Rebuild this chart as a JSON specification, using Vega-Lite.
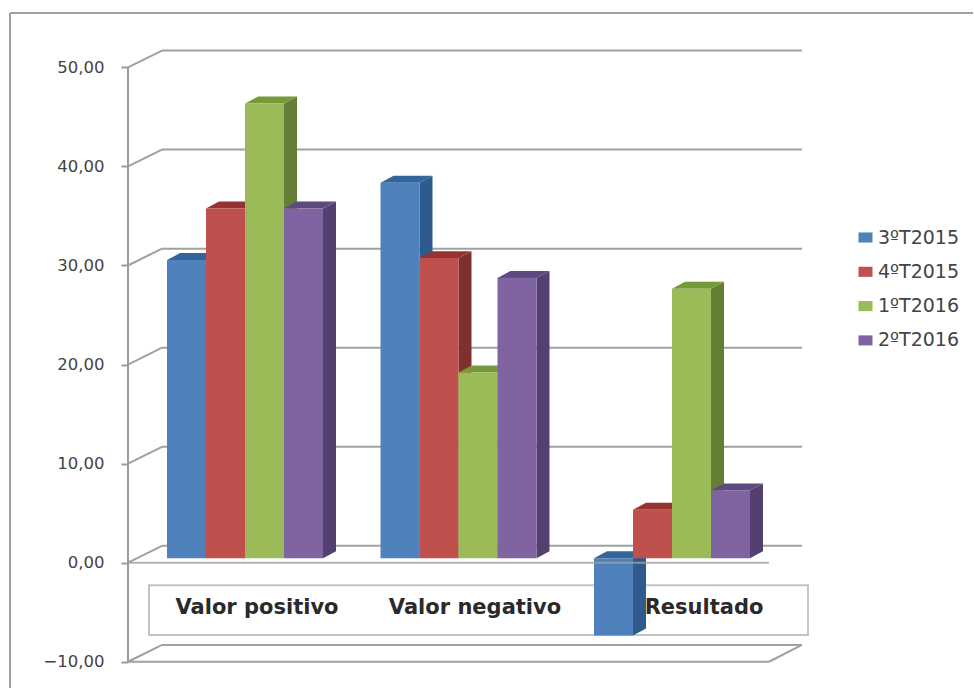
{
  "$schema": "https://vega.github.io/schema/vega-lite/v6.json",
  "width": 974,
  "height": 689,
  "padding": 0,
  "autosize": {"type": "fit", "contains": "padding"},
  "background": "#ffffff",
  "config": {"view": {"stroke": null}},
  "datasets": {
    "barras": [
      {"grupo": "Valor positivo", "serie": "3ºT2015", "valor": 30.1},
      {"grupo": "Valor positivo", "serie": "4ºT2015", "valor": 35.3},
      {"grupo": "Valor positivo", "serie": "1ºT2016", "valor": 45.9},
      {"grupo": "Valor positivo", "serie": "2ºT2016", "valor": 35.3},
      {"grupo": "Valor negativo", "serie": "3ºT2015", "valor": 37.9},
      {"grupo": "Valor negativo", "serie": "4ºT2015", "valor": 30.3},
      {"grupo": "Valor negativo", "serie": "1ºT2016", "valor": 18.75},
      {"grupo": "Valor negativo", "serie": "2ºT2016", "valor": 28.3},
      {"grupo": "Resultado", "serie": "3ºT2015", "valor": -7.8},
      {"grupo": "Resultado", "serie": "4ºT2015", "valor": 4.9},
      {"grupo": "Resultado", "serie": "1ºT2016", "valor": 27.2},
      {"grupo": "Resultado", "serie": "2ºT2016", "valor": 6.85}
    ],
    "niveles": [
      {"nivel": -10}, {"nivel": 0}, {"nivel": 10}, {"nivel": 20},
      {"nivel": 30}, {"nivel": 40}, {"nivel": 50}
    ],
    "grupos": [
      {"grupo": "Valor positivo"}, {"grupo": "Valor negativo"}, {"grupo": "Resultado"}
    ],
    "uno": [{"marco": 1}]
  },
  "resolve": {"scale": {"color": "independent"}, "axis": {"x": "independent", "y": "independent"}},
  "layer": [
    {
      "description": "Outer chart frame, top edge",
      "data": {"name": "uno"},
      "mark": {"type": "rule", "color": "#a0a0a0", "strokeWidth": 2},
      "encoding": {
        "x": {"datum": 10, "type": "quantitative", "scale": {"domain": [0, 973], "nice": false, "zero": false}, "axis": null},
        "x2": {"datum": 973},
        "y": {
          "datum": 55.5, "type": "quantitative",
          "scale": {"domain": [-12.65, 56.8], "nice": false, "zero": false},
          "axis": {
            "title": null, "orient": "left", "offset": -128, "grid": false, "domain": false,
            "values": [-10, 0, 10, 20, 30, 40, 50],
            "labelExpr": "replace(format(datum.value, '.2f'), '.', ',')",
            "tickColor": "#9a9a9a", "tickWidth": 2, "tickSize": 7,
            "labelFont": "DejaVu Sans", "labelFontSize": 16.5, "labelColor": "#444444", "labelPadding": 17
          }
        }
      }
    },
    {
      "description": "Outer chart frame, left edge",
      "data": {"name": "uno"},
      "mark": {"type": "rule", "color": "#a0a0a0", "strokeWidth": 2},
      "encoding": {
        "x": {"datum": 10, "type": "quantitative", "axis": null},
        "y": {"datum": 55.5, "type": "quantitative", "axis": null},
        "y2": {"datum": -12.65}
      }
    },
    {
      "description": "Vertical value axis line on the front plane",
      "data": {"name": "uno"},
      "mark": {"type": "rule", "color": "#9a9a9a", "strokeWidth": 2},
      "encoding": {
        "x": {"datum": 128, "type": "quantitative", "axis": null},
        "y": {"datum": 50, "type": "quantitative", "axis": null},
        "y2": {"datum": -10}
      }
    },
    {
      "description": "Gridlines on the back wall",
      "data": {"name": "niveles"},
      "transform": [{"calculate": "datum.nivel + 1.7", "as": "fondo"}],
      "mark": {"type": "rule", "color": "#a0a0a0", "strokeWidth": 2},
      "encoding": {
        "x": {"datum": 162, "type": "quantitative", "axis": null},
        "x2": {"datum": 802},
        "y": {"field": "fondo", "type": "quantitative", "axis": null}
      }
    },
    {
      "description": "Slanted gridline segments on the side wall",
      "data": {"name": "niveles"},
      "transform": [{"calculate": "datum.nivel + 1.7", "as": "fondo"}],
      "mark": {"type": "rule", "color": "#a0a0a0", "strokeWidth": 2},
      "encoding": {
        "x": {"datum": 128, "type": "quantitative", "axis": null},
        "x2": {"datum": 162},
        "y": {"field": "nivel", "type": "quantitative", "axis": null},
        "y2": {"field": "fondo"}
      }
    },
    {
      "description": "Front edge of the floor",
      "data": {"name": "uno"},
      "mark": {"type": "rule", "color": "#a0a0a0", "strokeWidth": 2},
      "encoding": {
        "x": {"datum": 128, "type": "quantitative", "axis": null},
        "x2": {"datum": 769},
        "y": {"datum": -10, "type": "quantitative", "axis": null}
      }
    },
    {
      "description": "Right edge of the floor",
      "data": {"name": "uno"},
      "mark": {"type": "rule", "color": "#a0a0a0", "strokeWidth": 2},
      "encoding": {
        "x": {"datum": 769, "type": "quantitative", "axis": null},
        "x2": {"datum": 802},
        "y": {"datum": -10, "type": "quantitative", "axis": null},
        "y2": {"datum": -8.3}
      }
    },
    {
      "description": "Box behind the category labels",
      "data": {"name": "uno"},
      "mark": {"type": "rect", "fill": "#ffffff", "stroke": "#c4c4c4", "strokeWidth": 2},
      "encoding": {
        "x": {"datum": 149, "type": "quantitative", "axis": null},
        "x2": {"datum": 808},
        "y": {"datum": -2.27, "type": "quantitative", "axis": null},
        "y2": {"datum": -7.31}
      }
    },
    {
      "description": "Right-hand face of every bar",
      "data": {"name": "barras"},
      "transform": [
        {"calculate": "indexof(['Valor positivo','Valor negativo','Resultado'], datum.grupo)", "as": "g"},
        {"calculate": "indexof(['3ºT2015','4ºT2015','1ºT2016','2ºT2016'], datum.serie)", "as": "s"},
        {"calculate": "167 + datum.g * 213.5 + (datum.s + 1) * 39", "as": "borde"},
        {"calculate": "0", "as": "cerca"},
        {"calculate": "1", "as": "lejos"},
        {"fold": ["cerca", "lejos"], "as": ["cara", "prof"]},
        {"calculate": "datum.borde + datum.prof * 13", "as": "px"},
        {"calculate": "datum.valor + 0.45 + datum.prof * 0.7", "as": "alto"},
        {"calculate": "0.45 + datum.prof * 0.7", "as": "bajo"}
      ],
      "mark": {"type": "area", "orient": "vertical"},
      "encoding": {
        "x": {"field": "px", "type": "quantitative", "axis": null},
        "y": {"field": "alto", "type": "quantitative", "axis": null, "stack": null},
        "y2": {"field": "bajo"},
        "detail": {"field": "grupo"},
        "color": {
          "field": "serie", "type": "nominal", "legend": null,
          "scale": {"domain": ["3ºT2015", "4ºT2015", "1ºT2016", "2ºT2016"], "range": ["#2f5b8c", "#7f302e", "#647f35", "#53406f"]}
        }
      }
    },
    {
      "description": "Top face of every bar",
      "data": {"name": "barras"},
      "transform": [
        {"calculate": "indexof(['Valor positivo','Valor negativo','Resultado'], datum.grupo)", "as": "g"},
        {"calculate": "indexof(['3ºT2015','4ºT2015','1ºT2016','2ºT2016'], datum.serie)", "as": "s"},
        {"calculate": "167 + datum.g * 213.5 + datum.s * 39", "as": "izq"},
        {"calculate": "0", "as": "cerca"},
        {"calculate": "1", "as": "lejos"},
        {"fold": ["cerca", "lejos"], "as": ["cara", "prof"]},
        {"calculate": "datum.izq + datum.prof * 13", "as": "p0"},
        {"calculate": "datum.izq + 39 + datum.prof * 13", "as": "p1"},
        {"calculate": "max(datum.valor, 0) + 0.45 + datum.prof * 0.7", "as": "alto"}
      ],
      "mark": {"type": "area", "orient": "horizontal"},
      "encoding": {
        "y": {"field": "alto", "type": "quantitative", "axis": null},
        "x": {"field": "p0", "type": "quantitative", "axis": null, "stack": null},
        "x2": {"field": "p1"},
        "detail": {"field": "grupo"},
        "color": {
          "field": "serie", "type": "nominal", "legend": null,
          "scale": {"domain": ["3ºT2015", "4ºT2015", "1ºT2016", "2ºT2016"], "range": ["#33649b", "#96322f", "#769a3a", "#5f4a80"]}
        }
      }
    },
    {
      "description": "Front face of every bar, carrying the legend",
      "data": {"name": "barras"},
      "transform": [
        {"calculate": "indexof(['Valor positivo','Valor negativo','Resultado'], datum.grupo)", "as": "g"},
        {"calculate": "indexof(['3ºT2015','4ºT2015','1ºT2016','2ºT2016'], datum.serie)", "as": "s"},
        {"calculate": "167 + datum.g * 213.5 + datum.s * 39", "as": "izq"},
        {"calculate": "datum.izq + 39", "as": "der"},
        {"calculate": "datum.valor + 0.45", "as": "alto"},
        {"calculate": "0.45", "as": "bajo"}
      ],
      "mark": {"type": "rect"},
      "encoding": {
        "x": {"field": "izq", "type": "quantitative", "axis": null},
        "x2": {"field": "der"},
        "y": {"field": "alto", "type": "quantitative", "axis": null},
        "y2": {"field": "bajo"},
        "color": {
          "field": "serie", "type": "nominal",
          "scale": {"domain": ["3ºT2015", "4ºT2015", "1ºT2016", "2ºT2016"], "range": ["#4f81bd", "#c0504d", "#9bbb59", "#8064a2"]},
          "legend": {
            "title": null, "orient": "none", "legendX": 856, "legendY": 228,
            "symbolType": "M-1,-0.72H1V0.72H-1Z", "symbolSize": 196, "symbolStrokeWidth": 0,
            "labelFont": "DejaVu Sans", "labelFontSize": 19, "labelColor": "#444444",
            "labelOffset": 3, "rowPadding": 14.3
          }
        }
      }
    },
    {
      "description": "Front edge of the zero level, running over the negative bar",
      "data": {"name": "uno"},
      "mark": {"type": "rule", "color": "#a0a0a0", "strokeWidth": 2, "opacity": 0.8},
      "encoding": {
        "x": {"datum": 128, "type": "quantitative", "axis": null},
        "x2": {"datum": 769},
        "y": {"datum": 0, "type": "quantitative", "axis": null}
      }
    },
    {
      "description": "Category labels",
      "data": {"name": "grupos"},
      "transform": [
        {"calculate": "[257, 475, 704][indexof(['Valor positivo','Valor negativo','Resultado'], datum.grupo)]", "as": "centro"},
        {"calculate": "-4.55", "as": "renglon"}
      ],
      "mark": {"type": "text", "font": "DejaVu Sans", "fontWeight": "bold", "fontSize": 21, "color": "#2a2a2a", "baseline": "middle", "align": "center"},
      "encoding": {
        "x": {"field": "centro", "type": "quantitative", "axis": null},
        "y": {"field": "renglon", "type": "quantitative", "axis": null},
        "text": {"field": "grupo"}
      }
    }
  ]
}
